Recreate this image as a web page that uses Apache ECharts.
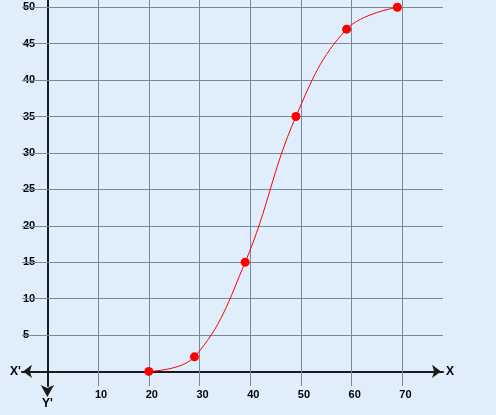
<!DOCTYPE html>
<html>
<head>
<meta charset="utf-8">
<script src="https://cdn.jsdelivr.net/npm/echarts@6/dist/echarts.min.js"></script>
<style>
html,body{margin:0;padding:0;background:#E0EEFB;}
#c{width:496px;height:415px;}
</style>
</head>
<body>
<div id="c"></div>
<script>
// Data
var xValues = [20, 29, 39, 49, 59, 69];
var yValues = [0, 2, 15, 35, 47, 50];
// Tick labels / grid positions
var xTicks = [10, 20, 30, 40, 50, 60, 70];
var yTicks = [5, 10, 15, 20, 25, 30, 35, 40, 45, 50];

var chart = echarts.init(document.getElementById('c'), null, {renderer: 'canvas'});
var font = {fontFamily: 'Liberation Sans, Arial, sans-serif', fontWeight: 'bold', fontSize: 11, color: '#000'};

var points = xValues.map(function (x, i) { return [x, yValues[i]]; });

var option = {
  backgroundColor: '#E0EEFB',
  animation: false,
  grid: {left: 22, top: 0, width: 421, height: 386, containLabel: false},
  xAxis: {
    type: 'value', min: -5, max: 78, interval: 1,
    name: 'X', nameLocation: 'end', nameGap: 3,
    nameTextStyle: {fontFamily: 'Liberation Sans, Arial, sans-serif', fontWeight: 'bold', fontSize: 12, color: '#000', verticalAlign: 'middle', align: 'left'},
    axisLine: {onZero: true, lineStyle: {color: '#1a1a1a', width: 2}, symbol: ['arrow', 'arrow'], symbolSize: [10, 9], symbolOffset: [1, -2]},
    axisTick: {show: false},
    splitLine: {show: false},
    axisLabel: Object.assign({}, font, {
      margin: 3, padding: [0, 0, 0, 6],
      formatter: function (v) { return xTicks.indexOf(v) >= 0 ? String(v) : ''; }
    })
  },
  yAxis: {
    type: 'value', min: -2, max: 51, interval: 1,
    name: "Y'", nameLocation: 'start', nameGap: 12,
    nameTextStyle: {fontFamily: 'Liberation Sans, Arial, sans-serif', fontWeight: 'bold', fontSize: 12, color: '#000', verticalAlign: 'top', align: 'center'},
    axisLine: {onZero: true, lineStyle: {color: '#1a1a1a', width: 2}, symbol: ['arrow', 'none'], symbolSize: [10, 12], symbolOffset: [-11, 0]},
    axisTick: {show: false},
    splitLine: {show: false},
    axisLabel: Object.assign({}, font, {
      inside: true, margin: 1, padding: [6, 0, 0, 0],
      formatter: function (v) { return yTicks.indexOf(v) >= 0 ? String(v) : ''; }
    })
  },
  graphic: [{
    type: 'text', left: 10, top: 366,
    style: {text: "X'", font: 'bold 12px Liberation Sans, Arial, sans-serif', fill: '#000'}
  }],
  series: [
    {
      type: 'line', data: [], silent: true,
      markLine: {
        silent: true, symbol: ['none', 'none'], label: {show: false},
        lineStyle: {color: '#778899', width: 1, type: 'solid'},
        data: xTicks.map(function (v) { return {xAxis: v}; }).concat(yTicks.map(function (v) { return {yAxis: v}; }))
      },
      z: 1
    },
    {
      type: 'line', data: points, smooth: 0.4,
      lineStyle: {color: '#ff0000', width: 1},
      symbol: 'circle', symbolSize: 9, showAllSymbol: true,
      itemStyle: {color: '#ff0000'},
      z: 5
    }
  ]
};
chart.setOption(option);
</script>
</body>
</html>
